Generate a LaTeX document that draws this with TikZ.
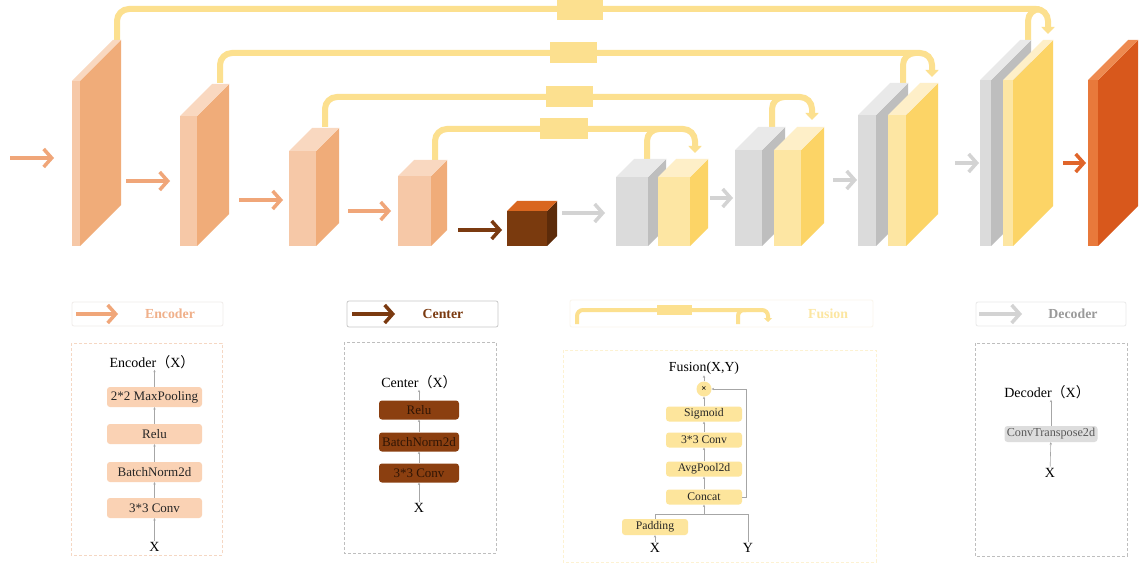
\documentclass[tikz,border=0pt]{standalone}
\usepackage{fontspec}
\setmainfont{Liberation Serif}
\newfontfamily\cjk{Noto Sans CJK SC}
\usetikzlibrary{arrows.meta}
\definecolor{encF}{HTML}{F6C8A7}
\definecolor{encS}{HTML}{F0AC79}
\definecolor{encT}{HTML}{F9D8C0}
\definecolor{grF}{HTML}{DBDBDB}
\definecolor{grS}{HTML}{BEBEBE}
\definecolor{grT}{HTML}{E9E9E9}
\definecolor{yeF}{HTML}{FDE6A3}
\definecolor{yeS}{HTML}{FCD466}
\definecolor{yeT}{HTML}{FEEFC8}
\definecolor{ceF}{HTML}{7A3A0E}
\definecolor{ceS}{HTML}{5C2B0A}
\definecolor{ceT}{HTML}{D9661F}
\definecolor{ouF}{HTML}{E8793B}
\definecolor{ouS}{HTML}{D8581C}
\definecolor{ouT}{HTML}{EE8A50}
\definecolor{skipc}{HTML}{FCE08F}
\definecolor{encA}{HTML}{F0A679}
\definecolor{grA}{HTML}{D3D3D3}
\definecolor{ceA}{HTML}{7B3A10}
\definecolor{ouA}{HTML}{E0652A}
\definecolor{encBlk}{HTML}{FAD2B4}
\definecolor{ceBlk}{HTML}{8B3F10}
\definecolor{ceTxt}{HTML}{301505}
\definecolor{yeBlk}{HTML}{FDE59C}
\definecolor{grBlk}{HTML}{DDDDDD}
\definecolor{encTxt}{HTML}{F0B08A}
\definecolor{fuTxt}{HTML}{FCE6A0}
\definecolor{deTxt}{HTML}{9A9A9A}
\definecolor{lbEnc}{HTML}{F0ECEA}
\definecolor{lbCen}{HTML}{C8C8C8}
\definecolor{lbFus}{HTML}{FAF6EC}
\definecolor{lbDec}{HTML}{EAEAEA}
\definecolor{dbEnc}{HTML}{F5D7C3}
\definecolor{dbGray}{HTML}{BEBEBE}
\definecolor{dbFus}{HTML}{FDF2D2}
\newcommand\drawslab[8]{%
  \fill[#6] (#1,#3) rectangle (#2,#4);
  \fill[#7] (#2,#4) -- (#2,#3) -- ++(#5,-#5) -- ++(0,#4-#3) -- cycle;
  \fill[#8] (#1,#3) -- (#2,#3) -- ++(#5,-#5) -- ++(#1-#2,0) -- cycle;}
\begin{document}
\begin{tikzpicture}[x=1pt,y=-1pt,
  fatarrow/.style={line width=3.5pt,-{Straight Barb[length=8pt,width=18pt]}},
  skipline/.style={draw=skipc,line width=6pt,rounded corners=12pt},
  skiparrow/.style={skipline,-{Triangle[length=7pt,width=13pt]}},
  legbox/.style={draw=#1,line width=0.8pt,rounded corners=2pt},
  dashbox/.style={draw=#1,dashed,dash pattern=on 3pt off 2pt,line width=0.8pt},
  conn/.style={draw=gray!70,line width=0.6pt,-{Stealth[length=2.4pt,width=2.4pt]}},
  plain/.style={draw=gray!70,line width=0.6pt},
  ttl/.style={font=\fontsize{14}{16}\selectfont,inner sep=1pt},
  legtxt/.style={font=\fontsize{13.8}{15}\selectfont\bfseries,text=#1},
  encblk/.style={fill=encBlk,rounded corners=3pt,minimum width=95pt,minimum height=20pt,inner sep=0pt,font=\fontsize{13}{15}\selectfont,text=black!85},
  ceblk/.style={fill=ceBlk,rounded corners=3pt,minimum width=80pt,minimum height=19pt,inner sep=0pt,font=\fontsize{13}{15}\selectfont,text=ceTxt},
  yeblk/.style={fill=yeBlk,rounded corners=3pt,minimum width=76pt,minimum height=15pt,inner sep=0pt,font=\fontsize{11.7}{13}\selectfont,text=black!85},
  grblk/.style={fill=grBlk,rounded corners=3pt,minimum width=93pt,minimum height=16pt,inner sep=0pt,font=\fontsize{12.2}{14}\selectfont,text=black!65}]
\useasboundingbox (0,0) rectangle (1142,569);
\fill[white] (0,0) rectangle (1142,569);

% ---------- skip connections ----------
\draw[skiparrow] (117,40) -- (117,9) -- (1048,9) -- (1048,34);
\draw[skipline] (1028,40) -- (1028,9) -- (1040,9);
\fill[skipc] (557,0) rectangle (603,20);
\draw[skiparrow] (220,83) -- (220,53) -- (932,53) -- (932,77);
\draw[skipline] (903,83) -- (903,53) -- (915,53);
\fill[skipc] (550,42) rectangle (597,63);
\draw[skiparrow] (325,127) -- (325,97) -- (812,97) -- (812,120);
\draw[skipline] (772,127) -- (772,97) -- (784,97);
\fill[skipc] (546,86) rectangle (593,107);
\draw[skiparrow] (435,160) -- (435,129) -- (695,129) -- (695,153);
\draw[skipline] (647,159) -- (647,129) -- (659,129);
\fill[skipc] (540,118) rectangle (588,139);

% ---------- encoder blocks ----------
\drawslab{72}{80}{81}{246}{41}{encF}{encS}{encT}
\drawslab{180}{197}{116}{246}{32}{encF}{encS}{encT}
\drawslab{289}{316}{151}{246}{23}{encF}{encS}{encT}
\drawslab{398}{431}{176}{246}{16}{encF}{encS}{encT}
% center
\drawslab{507}{547}{211}{246}{10}{ceF}{ceS}{ceT}
% decoder stages
\drawslab{616}{648}{177}{246}{18}{grF}{grS}{grT}
\drawslab{658}{690}{177}{246}{18}{yeF}{yeS}{yeT}
\drawslab{735}{762}{150}{246}{23}{grF}{grS}{grT}
\drawslab{774}{801}{150}{246}{23}{yeF}{yeS}{yeT}
\drawslab{858}{876}{115}{246}{32}{grF}{grS}{grT}
\drawslab{888}{906}{115}{246}{32}{yeF}{yeS}{yeT}
\drawslab{980}{991}{80}{246}{40}{grF}{grS}{grT}
\drawslab{1003}{1013}{80}{246}{40}{yeF}{yeS}{yeT}
% output
\drawslab{1088}{1098}{80}{246}{40}{ouF}{ouS}{ouT}

% ---------- flow arrows ----------
\coordinate (i0) at (10,158);  \coordinate (i1) at (54,158);
\coordinate (a0) at (126,181); \coordinate (a1) at (170,181);
\coordinate (b0) at (239,200); \coordinate (b1) at (283,200);
\coordinate (c0) at (348,211); \coordinate (c1) at (391,211);
\coordinate (d0) at (458,230); \coordinate (d1) at (502,230);
\coordinate (g0) at (562,213); \coordinate (g1) at (605,213);
\coordinate (h0) at (710,198); \coordinate (h1) at (733,198);
\coordinate (k0) at (833,180); \coordinate (k1) at (857,180);
\coordinate (m0) at (955,163); \coordinate (m1) at (979,163);
\coordinate (o0) at (1063,163);\coordinate (o1) at (1086,163);
\draw[fatarrow,encA] (i0) -- (i1);
\draw[fatarrow,encA] (a0) -- (a1);
\draw[fatarrow,encA] (b0) -- (b1);
\draw[fatarrow,encA] (c0) -- (c1);
\draw[fatarrow,ceA] (d0) -- (d1);
\draw[fatarrow,grA] (g0) -- (g1);
\draw[fatarrow,grA] (h0) -- (h1);
\draw[fatarrow,grA] (k0) -- (k1);
\draw[fatarrow,grA] (m0) -- (m1);
\draw[fatarrow,ouA] (o0) -- (o1);

% ---------- legend: encoder ----------
\draw[legbox=lbEnc] (72,302) rectangle (223,326);
\coordinate (ela) at (76,314); \coordinate (elb) at (118,314);
\draw[fatarrow,encA] (ela) -- (elb);
\node[legtxt=encTxt] (elt) at (170,314) {Encoder};
\draw[dashbox=dbEnc] (71,343) rectangle (222,555);
\node[ttl] (etitle) at (152,362) {Encoder{\cjk （}X{\cjk ）}};
\node[encblk] (e4) at (154.5,397) {2*2 MaxPooling};
\node[encblk] (e3) at (154.5,434) {Relu};
\node[encblk] (e2) at (154.5,472) {BatchNorm2d};
\node[encblk] (e1) at (154.5,508) {3*3 Conv};
\node[ttl] (ex) at (154.5,547) {X};
\draw[conn] (ex) -- (e1);
\draw[conn] (e1) -- (e2);
\draw[conn] (e2) -- (e3);
\draw[conn] (e3) -- (e4);
\draw[conn] (e4.north) -- (e4.north |- etitle.south);

% ---------- legend: center ----------
\draw[legbox=lbCen] (347,301) rectangle (498,327);
\coordinate (cla) at (352,314); \coordinate (clb) at (395,314);
\draw[fatarrow,ceA] (cla) -- (clb);
\node[legtxt=ceA] (clt) at (443,314) {Center};
\draw[dashbox=dbGray] (344,342) rectangle (496,553);
\node[ttl] (ctitle) at (419,382) {Center{\cjk （}X{\cjk ）}};
\node[ceblk] (c3) at (419,410) {Relu};
\node[ceblk] (c2) at (419,442) {BatchNorm2d};
\node[ceblk] (c1n) at (419,473) {3*3 Conv};
\node[ttl] (cx) at (419,508) {X};
\draw[conn] (cx) -- (c1n);
\draw[conn] (c1n) -- (c2);
\draw[conn] (c2) -- (c3);
\draw[conn] (c3.north) -- (c3.north |- ctitle.south);

% ---------- legend: fusion ----------
\draw[legbox=lbFus] (570,300) rectangle (873,327);
\draw[draw=skipc,line width=4pt,rounded corners=6pt,-{Triangle[length=4pt,width=8pt]}] (577,324) -- (577,310) -- (768,310) -- (768,322);
\draw[draw=skipc,line width=4pt,rounded corners=6pt] (738,324) -- (738,310) -- (746,310);
\fill[skipc] (657,304.5) rectangle (692,314.5);
\node[legtxt=fuTxt] (flt) at (828,314) {Fusion};
\draw[dashbox=dbFus] (563,350) rectangle (876,562);
\node[ttl,font=\fontsize{13.8}{15}\selectfont] (ftitle) at (704,368) {Fusion(X,Y)};
\node[circle,fill=yeBlk,minimum size=15pt,inner sep=0pt,font=\fontsize{9}{10}\selectfont\bfseries] (mul) at (704,389) {×};
\node[yeblk] (fsig) at (704,414) {Sigmoid};
\node[yeblk] (fconv) at (704,440) {3*3 Conv};
\node[yeblk] (fpool) at (704,469) {AvgPool2d};
\node[yeblk] (fcat) at (704,497) {Concat};
\node[yeblk,minimum width=66pt,minimum height=16pt] (fpad) at (655,527) {Padding};
\node[ttl] (fx) at (655,548) {X};
\node[ttl] (fy) at (748,548) {Y};
\coordinate (fj) at (704,514);
\coordinate (fjl) at (655,514);
\coordinate (fjr) at (748,514);
\draw[conn] (fx) -- (fpad);
\draw[plain] (fpad) -- (fjl) -- (fjr) -- (fy);
\draw[conn] (fj) -- (fcat);
\draw[conn] (fcat) -- (fpool);
\draw[conn] (fpool) -- (fconv);
\draw[conn] (fconv) -- (fsig);
\draw[conn] (fsig) -- (mul);
\draw[conn] (mul) -- (ftitle);
\draw[conn] (fcat.east) -- ++(4,0) |- (mul);

% ---------- legend: decoder ----------
\draw[legbox=lbDec] (976,302) rectangle (1126,326);
\coordinate (dla) at (979,314); \coordinate (dlb) at (1022,314);
\draw[fatarrow,grA] (dla) -- (dlb);
\node[legtxt=deTxt] (dlt) at (1073,314) {Decoder};
\draw[dashbox=dbGray] (975,343) rectangle (1127,556);
\node[ttl] (dtitle) at (1047,392) {Decoder{\cjk （}X{\cjk ）}};
\node[grblk] (dblk) at (1051,434) {ConvTranspose2d};
\node[ttl] (dx) at (1050,473) {X};
\draw[conn] (dx) -- (dblk);
\draw[conn] (dblk.north) -- (dblk.north |- dtitle.south);
\end{tikzpicture}
\end{document}
